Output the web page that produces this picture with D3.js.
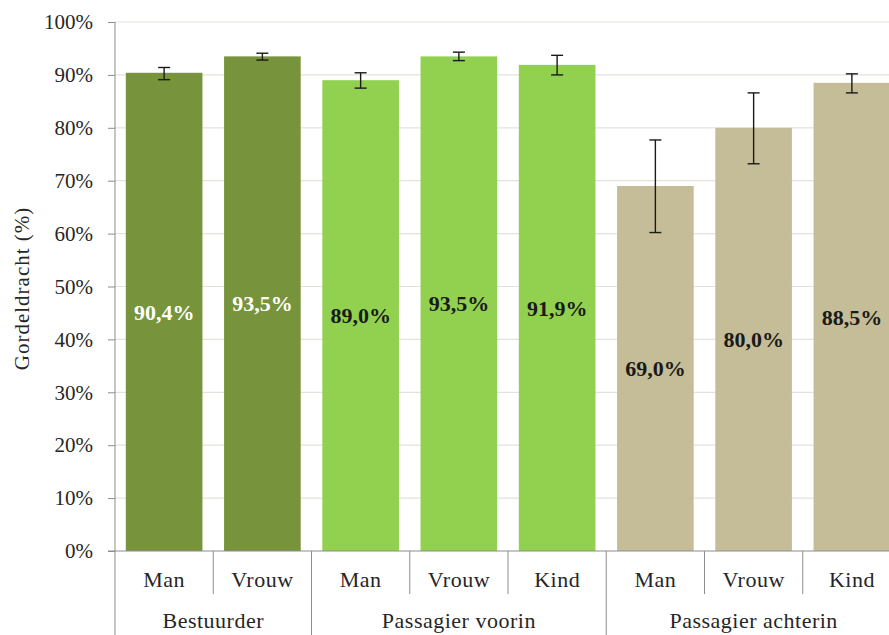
<!DOCTYPE html>
<html>
<head>
<meta charset="utf-8">
<script src="https://cdn.jsdelivr.net/npm/d3@7"></script>
<style>
  body { margin: 0; background: #fff; }
  svg text { font-family: "Liberation Serif", "Times New Roman", "DejaVu Serif", serif !important; }
</style>
</head>
<body>
<svg id="chart"></svg>
<script>
// data
const groups = ["Bestuurder", "Passagier voorin", "Passagier achterin"];
const categories = ["Man", "Vrouw", "Man", "Vrouw", "Kind", "Man", "Vrouw", "Kind"];
const categoryGroup = [0, 0, 1, 1, 1, 2, 2, 2];
const values = [90.4, 93.5, 89.0, 93.5, 91.9, 69.0, 80.0, 88.5];
const errLow = [89.1, 92.8, 87.5, 92.7, 90.0, 60.2, 73.2, 86.6];
const errHigh = [91.4, 94.1, 90.4, 94.3, 93.7, 77.7, 86.6, 90.2];
const valueLabels = ["90,4%", "93,5%", "89,0%", "93,5%", "91,9%", "69,0%", "80,0%", "88,5%"];
const yTicks = [0, 10, 20, 30, 40, 50, 60, 70, 80, 90, 100];

const groupColors = ["#77933c", "#92d050", "#c4bd97"];
const labelColors = ["#ffffff", "#1a1a1a", "#1a1a1a"];

const W = 889, H = 635;
const margin = { top: 22, left: 115, bottom: 84 };
const plotRight = 901; // chart runs past the right edge of the picture
const plotBottom = H - margin.bottom;

const svg = d3.select("#chart").attr("width", W).attr("height", H);

const x = d3.scaleBand()
    .domain(d3.range(categories.length))
    .range([margin.left, plotRight])
    .paddingInner(0.22)
    .paddingOuter(0.11);

const y = d3.scaleLinear().domain([0, 100]).range([plotBottom, margin.top]);

// gridlines
svg.append("g")
    .selectAll("line")
    .data(yTicks.slice(1))
    .join("line")
    .attr("x1", margin.left).attr("x2", plotRight)
    .attr("y1", d => y(d)).attr("y2", d => y(d))
    .attr("stroke", "#e3e3dc").attr("stroke-width", 1.2);

// y axis
const yAxis = svg.append("g")
    .attr("transform", `translate(${margin.left},0)`)
    .call(d3.axisLeft(y).tickValues(yTicks).tickSize(7).tickPadding(15).tickFormat(d => d + "%"));
yAxis.attr("font-family", null);
yAxis.select(".domain").attr("stroke", "#8c8c8c").attr("d", `M0,${margin.top}V${H}`);
yAxis.selectAll(".tick line").attr("stroke", "#8c8c8c");
yAxis.selectAll(".tick text").attr("font-size", 21).attr("fill", "#262626");

svg.append("text")
    .attr("transform", `translate(29,${(margin.top + plotBottom) / 2 + 2}) rotate(-90)`)
    .attr("text-anchor", "middle")
    .attr("font-size", 21)
    .attr("letter-spacing", 1)
    .attr("fill", "#262626")
    .text("Gordeldracht (%)");

// bars
svg.append("g")
    .selectAll("rect")
    .data(values)
    .join("rect")
    .attr("x", (d, i) => x(i))
    .attr("width", x.bandwidth())
    .attr("y", d => y(d))
    .attr("height", d => plotBottom - y(d))
    .attr("fill", (d, i) => groupColors[categoryGroup[i]]);

// error bars
const capW = 6;
const err = svg.append("g").attr("stroke", "#1a1a1a").attr("stroke-width", 1.4);
values.forEach((v, i) => {
    const cx = x(i) + x.bandwidth() / 2;
    err.append("line").attr("x1", cx).attr("x2", cx).attr("y1", y(errLow[i])).attr("y2", y(errHigh[i]));
    err.append("line").attr("x1", cx - capW).attr("x2", cx + capW).attr("y1", y(errLow[i])).attr("y2", y(errLow[i]));
    err.append("line").attr("x1", cx - capW).attr("x2", cx + capW).attr("y1", y(errHigh[i])).attr("y2", y(errHigh[i]));
});

// value labels at bar center
svg.append("g")
    .selectAll("text")
    .data(values)
    .join("text")
    .attr("x", (d, i) => x(i) + x.bandwidth() / 2)
    .attr("y", d => (y(d) + plotBottom) / 2)
    .attr("dy", "0.35em")
    .attr("text-anchor", "middle")
    .attr("font-size", 22)
    .attr("font-weight", "bold")
    .attr("fill", (d, i) => labelColors[categoryGroup[i]])
    .text((d, i) => valueLabels[i]);

// x axis line
svg.append("line")
    .attr("x1", margin.left - 7).attr("x2", plotRight)
    .attr("y1", plotBottom).attr("y2", plotBottom)
    .attr("stroke", "#8c8c8c");

// category separators
const step = x.step();
const sep = svg.append("g").attr("stroke", "#8c8c8c");
d3.range(1, categories.length).forEach(i => {
    const xs = margin.left + i * step;
    const groupEdge = categoryGroup[i] !== categoryGroup[i - 1];
    sep.append("line")
        .attr("x1", xs).attr("x2", xs)
        .attr("y1", plotBottom).attr("y2", groupEdge ? H : plotBottom + 43);
});

// category labels
svg.append("g")
    .selectAll("text")
    .data(categories)
    .join("text")
    .attr("x", (d, i) => x(i) + x.bandwidth() / 2)
    .attr("y", plotBottom + 36)
    .attr("text-anchor", "middle")
    .attr("font-size", 22)
    .attr("letter-spacing", 0.5)
    .attr("fill", "#262626")
    .text(d => d);

// group labels
svg.append("g")
    .selectAll("text")
    .data(groups)
    .join("text")
    .attr("x", (d, gi) => {
        const idx = categoryGroup.map((g, i) => g === gi ? i : -1).filter(i => i >= 0);
        return margin.left + (idx[0] + (idx[idx.length - 1] + 1)) / 2 * step;
    })
    .attr("y", plotBottom + 77)
    .attr("text-anchor", "middle")
    .attr("font-size", 22)
    .attr("letter-spacing", 0.5)
    .attr("fill", "#262626")
    .text(d => d);
</script>
</body>
</html>
